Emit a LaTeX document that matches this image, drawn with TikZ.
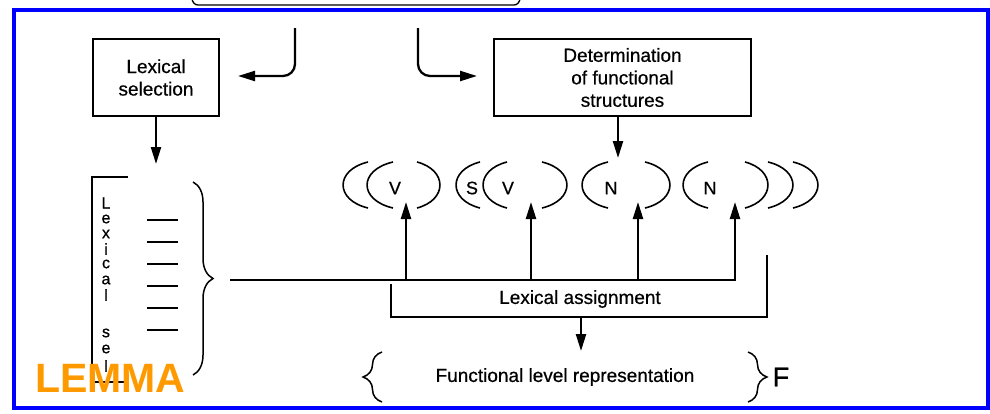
\documentclass[tikz,border=0pt]{standalone}
\usepackage{fontspec}
\setmainfont{Liberation Sans}
\newfontfamily\scanfont[FakeBold=0.6]{Liberation Sans}
\usetikzlibrary{arrows.meta,decorations.pathreplacing,calc}
\definecolor{frameblue}{RGB}{0,0,255}
\definecolor{lemmaorange}{RGB}{255,153,0}

\begin{document}
\begin{tikzpicture}[x=1pt,y=-1pt,
  txt/.style={font=\scanfont\fontsize{19}{22.5}\selectfont, align=center, inner sep=0pt},
  box/.style={draw, line width=1.7pt, txt, minimum height=77pt},
  arr/.style={line width=2.3pt, -{Triangle[length=17pt,width=10pt]}},
  thin/.style={line width=1.6pt},
  curly/.style={line width=1.5pt, decorate, decoration={brace, amplitude=#1, aspect=0.5}},
  sym/.style={font=\scanfont\fontsize{18}{18}\selectfont, inner sep=0pt},
  vletter/.style={font=\scanfont\fontsize{16}{16}\selectfont, inner sep=0pt},
]
\useasboundingbox (0,0) rectangle (990,413);

% frame
\draw[frameblue, line width=4.5pt] (14,10) rectangle (988,408);

% end of a bracket from the stage above
\draw[line width=1.3pt] (192,-2) to[out=-90,in=180] (198,5) -- (514,5) to[out=0,in=-90] (520,-2);

% two processing boxes
\node[box, minimum width=126pt] (lexsel) at (156,77.5) {Lexical\\selection};
\node[box, minimum width=257pt] (det) at (622.5,77.5) {Determination\\of functional\\structures};

% bent input arrows
\coordinate (inL) at (295,28);
\coordinate (inLend) at (238,76);
\coordinate (inR) at (418,28);
\coordinate (inRend) at (477,76);
\draw[arr, rounded corners=12pt] (inL) |- (inLend);
\draw[arr, rounded corners=12pt] (inR) |- (inRend);

% arrows down from the boxes
\coordinate (lexin) at (156,164);
\draw[arr] (lexsel.south) -- (lexin);
\coordinate (detin) at (618,158);
\draw[arr] (det.south -| detin) -- (detin);

% lexical list bracket
\draw[thin] (128,177) -- (92,177) -- (92,382) -- (125,382);
\foreach \ch/\yy [count=\i] in {L/203,e/219,x/234,i/249,c/264,a/280,l/295,s/333,e/349,l/366}
  \node[vletter] (ls\i) at (106,\yy) {\ch};
\foreach \yy in {220,242,264,286,308,330}
  \draw[line width=1.6pt] (147,\yy) -- (178,\yy);
\draw[curly=20pt] (193,182) -- (193,375);

% main horizontal line and upward arrows
\coordinate (hl) at (230,280);
\coordinate (hr) at (735,280);
\draw[line width=2.6pt] (hl) -- (hr);
\foreach \xx [count=\i] in {406,531,638,735} {
  \coordinate (up\i) at (\xx,281);
  \coordinate (upt\i) at (\xx,202);
  \draw[arr] (up\i) -- (upt\i);
}

% functional structure frames
\foreach \t/\l in {368/343,393/367,480/456,507/483,608/582,708/683}
  \draw[line width=1.6pt] (\t,162) .. controls ({\t-1.33*(\t-\l)},170) and ({\t-1.33*(\t-\l)},200) .. (\t,208);
\foreach \t/\r in {417/440,542/567,645/670,745/768,768/793,793/818}
  \draw[line width=1.6pt] (\t,162) .. controls ({\t+1.33*(\r-\t)},170) and ({\t+1.33*(\r-\t)},200) .. (\t,208);
\node[sym] (v1) at (395,188) {V};
\node[sym] (s1) at (472,188) {S};
\node[sym] (v2) at (508,188) {V};
\node[sym] (n1) at (611,188) {N};
\node[sym] (n2) at (710,188) {N};

% lexical assignment bracket
\coordinate (laL) at (391,284);
\coordinate (laR) at (767,255);
\coordinate (laout) at (581,317);
\draw[line width=1.8pt] (laL) |- (laout) -| (laR);
\node[txt] (lexassign) at (580,299) {Lexical assignment};
\coordinate (flin) at (581,351);
\draw[arr] (laout) -- (flin);

% functional level
\node[txt] (funclevel) at (565,377) {Functional level representation};
\draw[curly=19pt] (382,402) -- (382,352);
\draw[curly=19pt] (748,352) -- (748,402);
\node[font=\scanfont\fontsize{27}{27}\selectfont, inner sep=0pt] (flabel) at (781,377) {F};

% lemma label
\node[font=\fontsize{41}{41}\selectfont\bfseries, text=lemmaorange, inner sep=0pt, anchor=base west] (lemma) at (35,392) {LEMMA};
\end{tikzpicture}
\end{document}
